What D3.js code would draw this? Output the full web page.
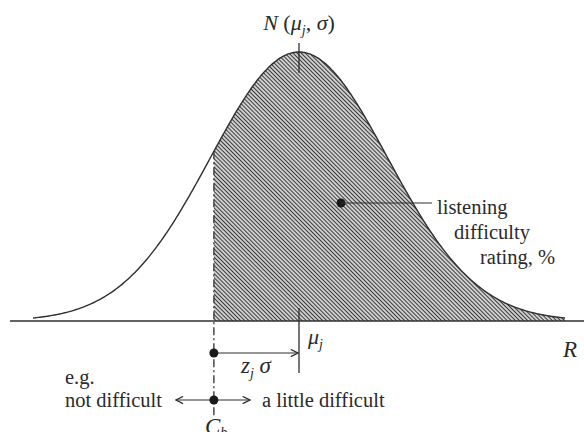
<!DOCTYPE html>
<html>
<head>
<meta charset="utf-8">
<script src="https://cdn.jsdelivr.net/npm/d3@7"></script>
<style>
  svg text { font-family: "Liberation Serif", "Times New Roman", Tinos, serif; }
</style>
</head>
<body style="margin:0">
<svg id="chart" width="584" height="432"></svg>
<script>
// Standardised rating scale: the distribution N(mu, sigma) with mu = 0, sigma = 1
const mu = 0;
const sigma = 1;
const zj = 0.96;              // distance of the category boundary below the mean, in sigma
const curveRange = [-3, 3];   // extent of the drawn bell curve
const axisRange = [-3.26, 3.22];
const samples = d3.range(curveRange[0], curveRange[1] + 0.001, 0.02);

const title = "N";
const catLeft = "not difficult";
const catRight = "a little difficult";
const shadedLabel = ["listening", "difficulty", "rating, %"];

const svg = d3.select("#chart");
const x = d3.scaleLinear().domain([-3, 3]).range([33, 565]);
const pdf = v => Math.exp(-0.5 * ((v - mu) / sigma) ** 2) / (sigma * Math.sqrt(2 * Math.PI));
const y = d3.scaleLinear().domain([0, pdf(mu)]).range([321, 52]);

const ink = "#2f2f2f";
const cb = mu - zj * sigma;

// hatch pattern (fine "\" strokes) for the area above the boundary
const defs = svg.append("defs");
const hp = 2.9;
const pat = defs.append("pattern")
  .attr("id", "hatch").attr("patternUnits", "userSpaceOnUse")
  .attr("width", hp).attr("height", hp)
  .attr("patternTransform", "rotate(-45)");
pat.append("rect").attr("width", hp).attr("height", hp).attr("fill", "#fff");
pat.append("line").attr("x1", hp / 2).attr("y1", -1).attr("x2", hp / 2).attr("y2", hp + 1)
  .attr("stroke", "#3a3a3a").attr("stroke-width", 1.45);

const area = d3.area().x(d => x(d)).y0(y(0)).y1(d => y(pdf(d))).curve(d3.curveBasis);
const shaded = [cb].concat(samples.filter(v => v > cb));
svg.append("path").datum(shaded).attr("d", area).attr("fill", "url(#hatch)");

// bell curve
const line = d3.line().x(d => x(d)).y(d => y(pdf(d))).curve(d3.curveBasis);
svg.append("path").datum(samples).attr("d", line)
  .attr("fill", "none").attr("stroke", ink).attr("stroke-width", 1.4);

// rating axis
svg.append("line")
  .attr("x1", x(axisRange[0])).attr("x2", x(axisRange[1]))
  .attr("y1", y(0)).attr("y2", y(0))
  .attr("stroke", ink).attr("stroke-width", 1.4);

// mean marker: tick at the peak and below the axis
svg.append("line").attr("x1", x(mu)).attr("x2", x(mu)).attr("y1", 43).attr("y2", 73)
  .attr("stroke", ink).attr("stroke-width", 1.3);
svg.append("line").attr("x1", x(mu)).attr("x2", x(mu)).attr("y1", 308).attr("y2", 373)
  .attr("stroke", ink).attr("stroke-width", 1.3);

// category boundary (dash-dot)
svg.append("line").attr("x1", x(cb)).attr("x2", x(cb)).attr("y1", y(pdf(cb))).attr("y2", 416)
  .attr("stroke", ink).attr("stroke-width", 1.3)
  .attr("stroke-dasharray", "8,3,2,3");

// arrow heads
defs.append("marker").attr("id", "arrow").attr("viewBox", "0 0 10 10")
  .attr("refX", 9).attr("refY", 5).attr("markerWidth", 9).attr("markerHeight", 9)
  .attr("markerUnits", "userSpaceOnUse").attr("orient", "auto-start-reverse")
  .append("path").attr("d", "M1,1 L9,5 L1,9").attr("fill", "none")
  .attr("stroke", ink).attr("stroke-width", 1.4);

// z_j sigma arrow
svg.append("line").attr("x1", x(cb)).attr("x2", x(mu) - 1).attr("y1", 353).attr("y2", 353)
  .attr("stroke", ink).attr("stroke-width", 1.2).attr("marker-end", "url(#arrow)");
// category arrows
svg.append("line").attr("x1", x(cb) - 38).attr("x2", x(cb) + 36).attr("y1", 400).attr("y2", 400)
  .attr("stroke", ink).attr("stroke-width", 1.2)
  .attr("marker-start", "url(#arrow)").attr("marker-end", "url(#arrow)");

svg.selectAll("circle.pt").data([353, 400]).join("circle").attr("class", "pt")
  .attr("cx", x(cb)).attr("cy", d => d).attr("r", 4.5).attr("fill", "#1a1a1a");

// leader from the shaded area to its label
svg.append("circle").attr("cx", 341).attr("cy", 203).attr("r", 4.5).attr("fill", "#1a1a1a");
svg.append("line").attr("x1", 341).attr("x2", 432).attr("y1", 203).attr("y2", 203)
  .attr("stroke", ink).attr("stroke-width", 1.2);

// labels
function label(px, py, size) {
  return svg.append("text").attr("x", px).attr("y", py)
    .style("font-family", "'Liberation Serif', 'Times New Roman', serif")
    .attr("font-size", size).attr("fill", "#2a2a2a");
}

const t = label(x(mu), 30, 22).attr("text-anchor", "middle");
t.append("tspan").attr("font-style", "italic").text(title);
t.append("tspan").text(" (");
t.append("tspan").attr("font-style", "italic").text("μ");
t.append("tspan").attr("font-style", "italic").attr("font-size", 14).attr("dy", 5).text("j");
t.append("tspan").attr("dy", -5).text(", ");
t.append("tspan").attr("font-style", "italic").text("σ");
t.append("tspan").text(")");

const mj = label(x(mu) + 9, 344, 22);
mj.append("tspan").attr("font-style", "italic").text("μ");
mj.append("tspan").attr("font-style", "italic").attr("font-size", 14).attr("dy", 5).text("j");

label(563, 357, 23).attr("font-style", "italic").text("R");

const zs = label(241, 373, 23);
zs.append("tspan").attr("font-style", "italic").text("z");
zs.append("tspan").attr("font-style", "italic").attr("font-size", 14).attr("dy", 5).text("j");
zs.append("tspan").attr("font-style", "italic").attr("dy", -5).text(" σ");

label(65, 384, 20.5).text("e.g.");
label(65, 407, 20.5).text(catLeft);
label(262, 407, 20.5).text(catRight);

const cbl = label(205, 434, 23);
cbl.append("tspan").attr("font-style", "italic").text("C");
cbl.append("tspan").attr("font-style", "italic").attr("font-size", 14).attr("dy", 3).text("b");

label(437, 214, 20.5).text(shadedLabel[0]);
label(454, 239, 20.5).text(shadedLabel[1]);
label(480, 264, 20.5).text(shadedLabel[2]);
</script>
</body>
</html>
